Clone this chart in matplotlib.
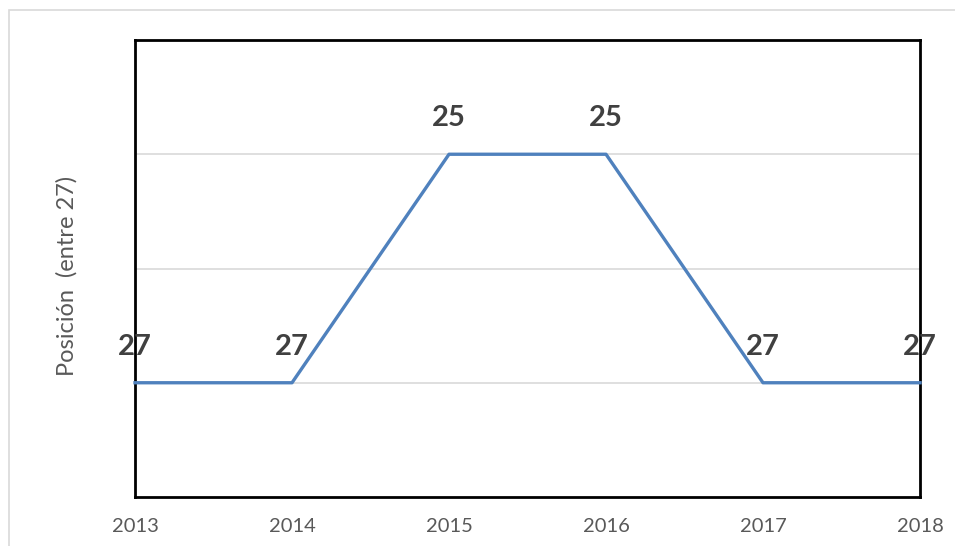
import matplotlib
matplotlib.use("Agg")
import matplotlib.pyplot as plt
from matplotlib.patches import Rectangle

years = [2013, 2014, 2015, 2016, 2017, 2018]
position = [27, 27, 25, 25, 27, 27]
grid_levels = [25, 26, 27]

BLUE = "#4f81bd"
GREY = "#595959"
LABEL = "#404040"
FONT = ["Lato", "DejaVu Sans"]

fig = plt.figure(figsize=(9.55, 5.46), dpi=100)
# light outer chart border
fig.patches.append(Rectangle((9 / 955, -0.05), 1.0, 1 - 10 / 546 + 0.05,
                             transform=fig.transFigure, fill=False,
                             edgecolor="#d9d9d9", lw=1.2))

ax = fig.add_axes([135 / 955, 1 - 497 / 546, 785 / 955, 457 / 546])
for g in grid_levels:
    ax.axhline(g, color="#d9d9d9", lw=1.2, zorder=1)
ax.plot(years, position, color=BLUE, lw=2.4, zorder=3, clip_on=False)

for x, y in zip(years, position):
    ax.annotate(str(y), (x, y), xytext=(0, 36), textcoords="offset pixels",
                ha="center", va="center", fontsize=21, fontweight="bold",
                color=LABEL, family=FONT, zorder=4)

ax.set_xlim(2013, 2018)
ax.set_ylim(28, 24)
ax.set_yticks([])
ax.set_xticks(years)
ax.set_xticklabels([str(y) for y in years], color=GREY, fontsize=14.5,
                   family=FONT)
ax.tick_params(axis="x", length=0, pad=15)
for s in ax.spines.values():
    s.set_color("black")
    s.set_linewidth(2)

fig.text(67 / 955, 1 - 276 / 546, "Posición  (entre 27)", rotation=90,
         ha="center", va="center", color=GREY, fontsize=17, family=FONT)

fig.savefig("out.png", dpi=100, facecolor="white")
